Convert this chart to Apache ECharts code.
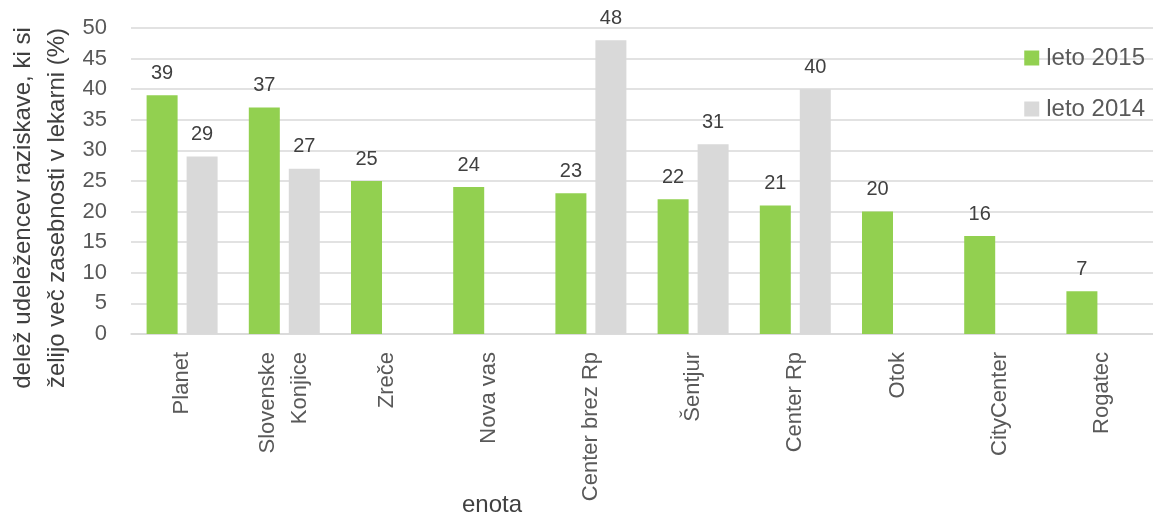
<!DOCTYPE html>
<html>
<head>
<meta charset="utf-8">
<script src="https://cdn.jsdelivr.net/npm/echarts@6/dist/echarts.min.js"></script>
<style>
html,body{margin:0;padding:0;background:#fff;overflow:hidden;}
#c{width:1153px;height:518px;}
</style>
</head>
<body>
<div id="c"></div>
<script>
var categories = ['Planet', 'Slovenske\nKonjice', 'Zreče', 'Nova vas', 'Center brez Rp', 'Šentjur', 'Center Rp', 'Otok', 'CityCenter', 'Rogatec'];
var leto2015 = [39, 37, 25, 24, 23, 22, 21, 20, 16, 7];
var leto2014 = [29, 27, null, null, 48, 31, 40, null, null, null];
var seriesNames = ['leto 2015', 'leto 2014'];
var yTitle = 'delež udeležencev raziskave, ki si\nželijo več zasebnosti v lekarni (%)';
var xTitle = 'enota';

var FONT = "'Liberation Sans', Arial, sans-serif";
var chart = echarts.init(document.getElementById('c'), null, {renderer: 'canvas'});
var labelStyle = {show: true, position: 'top', distance: 12, color: '#404040', fontSize: 20, fontFamily: FONT};
chart.setOption({
  animation: false,
  textStyle: {fontFamily: FONT},
  grid: {left: 131, right: -4, top: 28, bottom: 184, containLabel: false},
  legend: {
    orient: 'vertical', right: 8, top: 46, padding: 0, itemWidth: 15, itemHeight: 15, itemGap: 27,
    icon: 'rect',
    textStyle: {fontSize: 24, color: '#595959', fontFamily: FONT, padding: [0, 0, 0, 2]},
    data: seriesNames
  },
  xAxis: {
    type: 'category', data: categories,
    axisLine: {lineStyle: {color: '#D9D9D9', width: 1.5}},
    axisTick: {show: false},
    axisLabel: {rotate: 90, margin: 18, fontSize: 22, color: '#595959', fontFamily: FONT, interval: 0, lineHeight: 32}
  },
  yAxis: {
    type: 'value', min: 0, max: 50, interval: 5,
    axisLine: {show: false}, axisTick: {show: false},
    splitLine: {lineStyle: {color: '#D9D9D9', width: 1.5}},
    axisLabel: {margin: 24, fontSize: 22, color: '#595959', fontFamily: FONT}
  },
  graphic: [
    {type: 'text', x: 40, y: 208, rotation: Math.PI / 2,
     style: {text: yTitle, fill: '#404040', fontSize: 24, fontFamily: FONT, lineHeight: 34, align: 'center', verticalAlign: 'middle'}},
    {type: 'text', x: 492, y: 505,
     style: {text: xTitle, fill: '#404040', fontSize: 24, fontFamily: FONT, align: 'center', verticalAlign: 'middle'}}
  ],
  series: [
    {name: seriesNames[0], type: 'bar', data: leto2015, barWidth: 31, barGap: '29%', itemStyle: {color: '#92D050'}, label: labelStyle},
    {name: seriesNames[1], type: 'bar', data: leto2014, barWidth: 31, barGap: '29%', itemStyle: {color: '#D9D9D9'}, label: labelStyle}
  ]
});
</script>
</body>
</html>
